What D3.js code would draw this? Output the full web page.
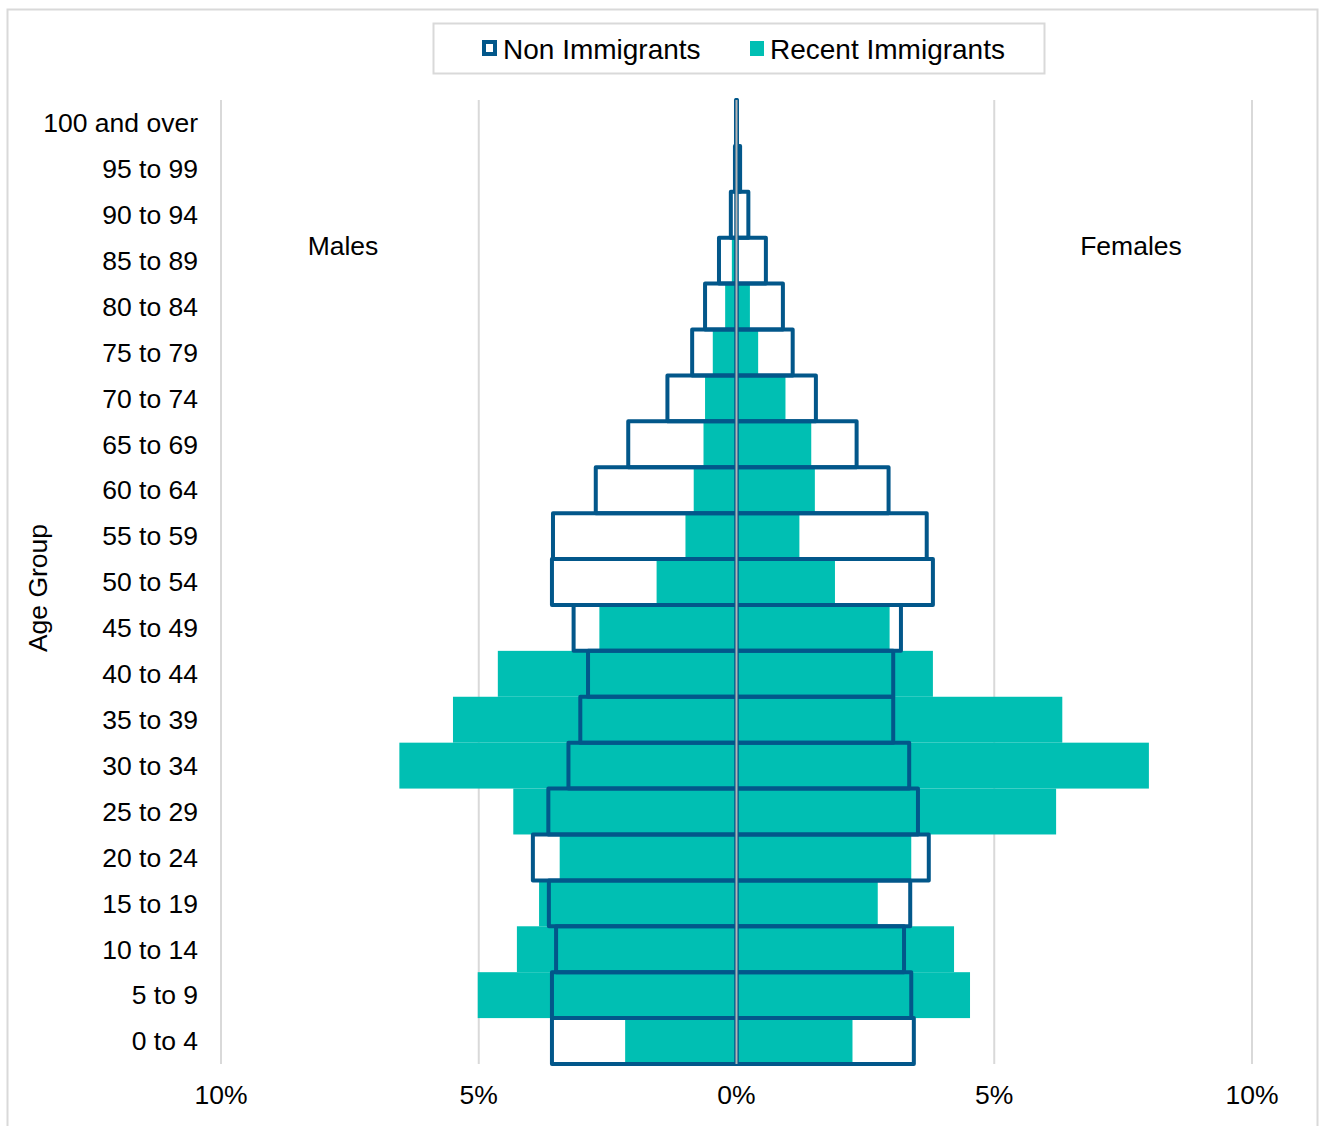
<!DOCTYPE html>
<html>
<head>
<meta charset="utf-8">
<script src="https://cdn.jsdelivr.net/npm/d3@7"></script>
<style>
  body { margin: 0; background: #fff; }
  text { font-family: "Liberation Sans", Arial, sans-serif; fill: #000; }
</style>
</head>
<body>
<div id="chart-container"></div>
<script>
// age groups, bottom to top
const ages = ['0 to 4', '5 to 9', '10 to 14', '15 to 19', '20 to 24', '25 to 29', '30 to 34',
  '35 to 39', '40 to 44', '45 to 49', '50 to 54', '55 to 59', '60 to 64', '65 to 69',
  '70 to 74', '75 to 79', '80 to 84', '85 to 89', '90 to 94', '95 to 99', '100 and over']

// percent of population
const maleNon = [3.58, 3.58, 3.50, 3.64, 3.95, 3.65, 3.26, 3.03, 2.88, 3.16, 3.58, 3.56, 2.73, 2.10, 1.34, 0.86, 0.61, 0.34, 0.11, 0.03, 0.01]
const femaleNon = [3.44, 3.39, 3.25, 3.37, 3.73, 3.52, 3.35, 3.04, 3.04, 3.19, 3.81, 3.69, 2.95, 2.33, 1.54, 1.09, 0.90, 0.57, 0.23, 0.07, 0.01]
const maleRecent = [2.16, 5.02, 4.26, 3.83, 3.43, 4.33, 6.54, 5.50, 4.63, 2.66, 1.55, 0.99, 0.83, 0.64, 0.61, 0.46, 0.22, 0.09, 0.02, 0, 0]
const femaleRecent = [2.25, 4.53, 4.22, 2.74, 3.39, 6.20, 8.00, 6.32, 3.81, 2.97, 1.91, 1.22, 1.52, 1.45, 0.95, 0.42, 0.26, 0.04, 0.02, 0, 0]

const xTicks = [-10, -5, 0, 5, 10]
const seriesNames = ['Non Immigrants', 'Recent Immigrants']

const width = 1320
const height = 1126
const blue = '#02578a'
const teal = '#00bfb3'
const grid = '#d9d9d9'
const fs = 26.5

const svg = d3.select('#chart-container')
  .append('svg')
  .attr('width', width)
  .attr('height', height)

// outer frame
svg.append('rect')
  .attr('x', 7.5).attr('y', 9.5)
  .attr('width', 1310).attr('height', 1140)
  .attr('fill', '#fff')
  .attr('stroke', grid)
  .attr('stroke-width', 2)

const x = d3.scaleLinear().domain([-10, 10]).range([221, 1252])
const y = d3.scaleBand().domain(ages.slice().reverse()).range([100, 1064]).padding(0)

// gridlines
svg.append('g')
  .selectAll('line')
  .data(xTicks.filter(d => d !== 0))
  .join('line')
  .attr('x1', d => x(d)).attr('x2', d => x(d))
  .attr('y1', 100).attr('y2', 1064)
  .attr('stroke', grid)
  .attr('stroke-width', 2)

const rows = ages.map((a, i) => ({
  age: a, mN: maleNon[i], fN: femaleNon[i], mR: maleRecent[i], fR: femaleRecent[i]
}))

// recent immigrants (filled)
svg.append('g')
  .selectAll('rect')
  .data(rows)
  .join('rect')
  .attr('x', d => x(-d.mR))
  .attr('y', d => y(d.age))
  .attr('width', d => x(0) - x(-d.mR))
  .attr('height', y.bandwidth())
  .attr('fill', teal)

svg.append('g')
  .selectAll('rect')
  .data(rows)
  .join('rect')
  .attr('x', x(0))
  .attr('y', d => y(d.age))
  .attr('width', d => x(d.fR) - x(0))
  .attr('height', y.bandwidth())
  .attr('fill', teal)

// non immigrants (outlined)
const outline = svg.append('g')
  .attr('fill', 'none')
  .attr('stroke', blue)
  .attr('stroke-width', 4)
  .attr('stroke-linejoin', 'round')

outline.append('g')
  .selectAll('rect')
  .data(rows)
  .join('rect')
  .attr('x', d => x(-d.mN))
  .attr('y', d => y(d.age))
  .attr('width', d => x(0) - x(-d.mN))
  .attr('height', y.bandwidth())

outline.append('g')
  .selectAll('rect')
  .data(rows)
  .join('rect')
  .attr('x', x(0))
  .attr('y', d => y(d.age))
  .attr('width', d => x(d.fN) - x(0))
  .attr('height', y.bandwidth())

// zero line
svg.append('line')
  .attr('x1', x(0)).attr('x2', x(0))
  .attr('y1', 100).attr('y2', 1064)
  .attr('stroke', '#b4b4b4')
  .attr('stroke-width', 2)

// y labels
svg.append('g')
  .selectAll('text')
  .data(ages)
  .join('text')
  .attr('x', 198)
  .attr('y', d => y(d) + y.bandwidth() / 2)
  .attr('dy', '0.35em')
  .attr('text-anchor', 'end')
  .attr('font-size', fs)
  .text(d => d)

// x labels
svg.append('g')
  .selectAll('text')
  .data(xTicks)
  .join('text')
  .attr('x', d => x(d))
  .attr('y', 1095)
  .attr('dy', '0.35em')
  .attr('text-anchor', 'middle')
  .attr('font-size', fs)
  .text(d => Math.abs(d) + '%')

svg.append('text')
  .attr('transform', 'translate(38,588) rotate(-90)')
  .attr('dy', '0.35em')
  .attr('text-anchor', 'middle')
  .attr('font-size', fs)
  .text('Age Group')

svg.append('text')
  .attr('x', 343).attr('y', 246).attr('dy', '0.35em')
  .attr('text-anchor', 'middle').attr('font-size', fs)
  .text('Males')

svg.append('text')
  .attr('x', 1131).attr('y', 246).attr('dy', '0.35em')
  .attr('text-anchor', 'middle').attr('font-size', fs)
  .text('Females')

// legend
const legend = svg.append('g')
legend.append('rect')
  .attr('x', 433.5).attr('y', 23.5)
  .attr('width', 611).attr('height', 50)
  .attr('fill', '#fff')
  .attr('stroke', grid)
  .attr('stroke-width', 2)

legend.append('rect')
  .attr('x', 484).attr('y', 42)
  .attr('width', 11).attr('height', 12)
  .attr('fill', '#fff')
  .attr('stroke', blue)
  .attr('stroke-width', 4)
legend.append('text')
  .attr('x', 503).attr('y', 49).attr('dy', '0.35em')
  .attr('font-size', 28)
  .text(seriesNames[0])

legend.append('rect')
  .attr('x', 750).attr('y', 41)
  .attr('width', 14).attr('height', 15)
  .attr('fill', teal)
legend.append('text')
  .attr('x', 770).attr('y', 49).attr('dy', '0.35em')
  .attr('font-size', 28)
  .text(seriesNames[1])
</script>
</body>
</html>
